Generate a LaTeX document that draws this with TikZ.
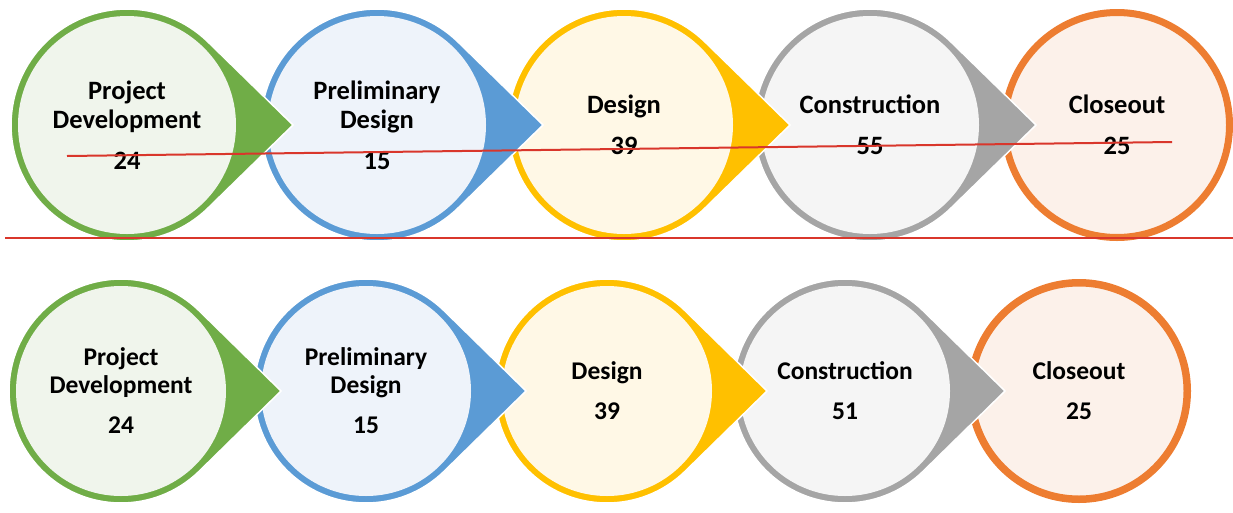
\documentclass[tikz,border=0pt]{standalone}
\usepackage{fontspec}
\setmainfont{Carlito}
\usepackage{tikz}
\usetikzlibrary{positioning}

\definecolor{rimgreen}{HTML}{70AD47}
\definecolor{rimblue}{HTML}{5B9BD5}
\definecolor{rimgold}{HTML}{FFC000}
\definecolor{rimgray}{HTML}{A5A5A5}
\definecolor{rimorange}{HTML}{ED7D31}
\definecolor{tintgreen}{HTML}{F0F5EC}
\definecolor{tintblue}{HTML}{EEF3FA}
\definecolor{tintgold}{HTML}{FFF8E6}
\definecolor{tintgray}{HTML}{F5F5F5}
\definecolor{tintorange}{HTML}{FCF1EA}
\definecolor{markred}{HTML}{D9362B}

\begin{document}
\begin{tikzpicture}[x=1pt, y=-1pt,
    pointer/.style = {draw=white, line width=1.5pt},
    stage/.style = {shape=circle, inner sep=0pt, align=center},
    upper/.style = {stage, minimum size=218pt,
      font=\fontsize{26.5}{29}\selectfont\bfseries},
    lower/.style = {stage, minimum size=210pt,
      font=\fontsize{25.5}{28}\selectfont\bfseries},
    redline/.style = {draw=markred, line width=2pt}]
    \useasboundingbox (0,0) rectangle (1233,512);
    % last stages: plain rings, no pointer
    \node[upper, fill=tintorange, draw=rimorange, line width=7pt,
      minimum size=225pt] (upClose) at (1117,125) {Closeout\\[12pt]25};
    \node[lower, fill=tintorange, draw=rimorange, line width=7.5pt,
      minimum size=216.5pt] (lowClose) at (1079,391) {Closeout\\[12pt]25};
    % upper row, drawn right to left
    \foreach \cx/\rim/\tint/\txt/\nm in {
        870/rimgray/tintgray/{Construction\\[12pt]55}/upBuild,
        624/rimgold/tintgold/{Design\\[12pt]39}/upDesign,
        377/rimblue/tintblue/{Preliminary\\Design\\[12pt]15}/upPrelim,
        127/rimgreen/tintgreen/{Project\\Development\\[12pt]24}/upProject}
    {
        \fill[pointer, fill=\rim] (\cx,125) ++(45.6:116)
            arc[start angle=45.6, end angle=314.4, radius=116]
            -- (\cx+166,125) -- cycle;
        \node[upper, fill=\tint] (\nm) at (\cx,125) {\txt};
    }
    % lower row, drawn right to left
    \foreach \cx/\rim/\tint/\txt/\nm in {
        845/rimgray/tintgray/{Construction\\[12pt]51}/lowBuild,
        607/rimgold/tintgold/{Design\\[12pt]39}/lowDesign,
        366/rimblue/tintblue/{Preliminary\\Design\\[12pt]15}/lowPrelim,
        121/rimgreen/tintgreen/{Project\\Development\\[12pt]24}/lowProject}
    {
        \fill[pointer, fill=\rim] (\cx,391) ++(45.6:112)
            arc[start angle=45.6, end angle=314.4, radius=112]
            -- (\cx+160,391) -- cycle;
        \node[lower, fill=\tint] (\nm) at (\cx,391) {\txt};
    }
    % red marks
    \coordinate (strikeA) at (67,156);
    \coordinate (strikeB) at (1172,142);
    \coordinate (splitA) at (5,238);
    \coordinate (splitB) at (1233,238);
    \draw[redline] (strikeA) -- (strikeB);
    \draw[redline] (splitA) -- (splitB);
\end{tikzpicture}
\end{document}
